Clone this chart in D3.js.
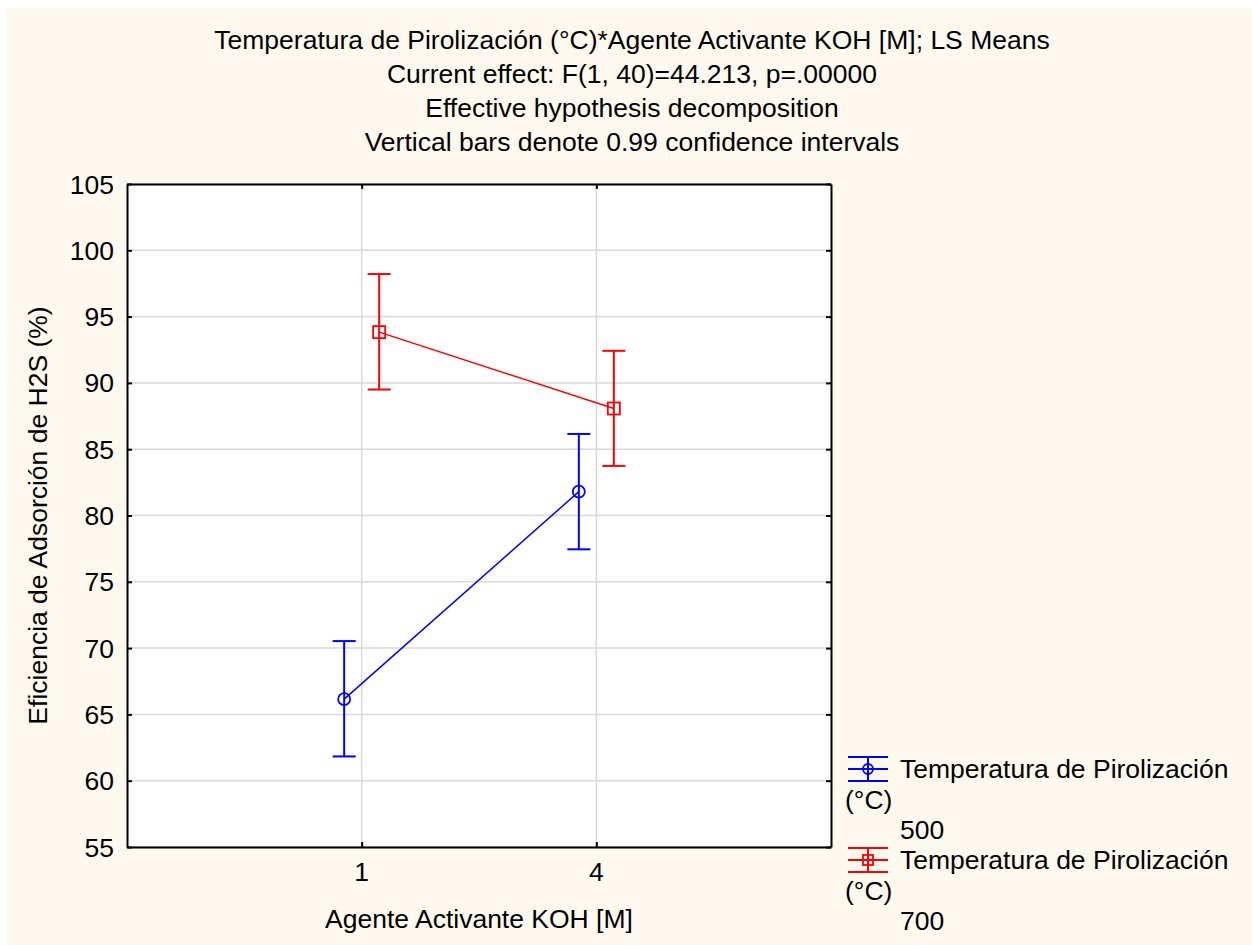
<!DOCTYPE html>
<html>
<head>
<meta charset="utf-8">
<script src="https://cdnjs.cloudflare.com/ajax/libs/d3/7.8.5/d3.min.js"></script>
<style>
  body { margin: 0; background: #ffffff; }
  text { font-family: "Liberation Sans", Arial, sans-serif; fill: #000; }
</style>
</head>
<body>
<div id="chart"></div>
<script>
// data
const categories = ["1", "4"];
const seriesNames = ["500", "700"];
const means500 = [66.15, 81.8];
const lower500 = [61.83, 77.45];
const upper500 = [70.53, 86.15];
const means700 = [93.83, 88.07];
const lower700 = [89.5, 83.74];
const upper700 = [98.21, 92.42];
const yTicks = [55, 60, 65, 70, 75, 80, 85, 90, 95, 100, 105];
const titleLines = [
  "Temperatura de Pirolización (°C)*Agente Activante KOH [M]; LS Means",
  "Current effect: F(1, 40)=44.213, p=.00000",
  "Effective hypothesis decomposition",
  "Vertical bars denote 0.99 confidence intervals"
];

const series = [
  { name: seriesNames[0], color: "#0000ff", marker: "circle", offset: -17.5,
    means: means500, lower: lower500, upper: upper500 },
  { name: seriesNames[1], color: "#ff0000", marker: "square", offset: 17.5,
    means: means700, lower: lower700, upper: upper700 }
];

const W = 1252, H = 945;
const plot = { left: 127, top: 184, right: 831, bottom: 847 };
const fontSize = 26.5;

const svg = d3.select("#chart").append("svg")
  .attr("width", W).attr("height", H);

// cream background (small white margin at top / left)
svg.append("rect")
  .attr("x", 7).attr("y", 8)
  .attr("width", W - 7).attr("height", H - 8)
  .attr("fill", "#fef9ee");

const x = d3.scalePoint()
  .domain(categories)
  .range([plot.left, plot.right])
  .padding(1);

const y = d3.scaleLinear()
  .domain([55, 105])
  .range([plot.bottom, plot.top]);

// plot area
svg.append("rect")
  .attr("x", plot.left).attr("y", plot.top)
  .attr("width", plot.right - plot.left)
  .attr("height", plot.bottom - plot.top)
  .attr("fill", "#ffffff");

// grid lines
svg.append("g")
  .selectAll("line")
  .data(yTicks)
  .enter()
  .append("line")
  .attr("x1", plot.left).attr("x2", plot.right)
  .attr("y1", (d) => y(d)).attr("y2", (d) => y(d))
  .attr("stroke", "#d9d9d9")
  .attr("stroke-width", 1.5);

svg.append("g")
  .selectAll("line")
  .data(categories)
  .enter()
  .append("line")
  .attr("x1", (d) => x(d)).attr("x2", (d) => x(d))
  .attr("y1", plot.top).attr("y2", plot.bottom)
  .attr("stroke", "#d9d9d9")
  .attr("stroke-width", 1.5);

// axes with inward ticks, no labels (labels drawn separately)
const axisLeft = d3.axisLeft(y).tickValues(yTicks).tickSizeInner(-5).tickSizeOuter(0).tickFormat("");
const axisRight = d3.axisRight(y).tickValues(yTicks).tickSizeInner(-5).tickSizeOuter(0).tickFormat("");
const axisBottom = d3.axisBottom(x).tickSizeInner(-5).tickSizeOuter(0).tickFormat("");
const axisTop = d3.axisTop(x).tickSizeInner(-5).tickSizeOuter(0).tickFormat("");

[
  [axisLeft, `translate(${plot.left},0)`],
  [axisRight, `translate(${plot.right},0)`],
  [axisBottom, `translate(0,${plot.bottom})`],
  [axisTop, `translate(0,${plot.top})`]
].forEach(([ax, tr]) => {
  const g = svg.append("g").attr("transform", tr).call(ax);
  g.selectAll("path, line").attr("stroke", "#000").attr("stroke-width", 2);
});

// y tick labels
svg.append("g")
  .selectAll("text")
  .data(yTicks)
  .enter()
  .append("text")
  .attr("x", plot.left - 13)
  .attr("y", (d) => y(d))
  .attr("dy", "0.36em")
  .attr("text-anchor", "end")
  .attr("font-size", fontSize)
  .text((d) => d);

// x tick labels
svg.append("g")
  .selectAll("text")
  .data(categories)
  .enter()
  .append("text")
  .attr("x", (d) => x(d))
  .attr("y", 881)
  .attr("text-anchor", "middle")
  .attr("font-size", fontSize)
  .text((d) => d);

// axis titles
svg.append("text")
  .attr("x", (plot.left + plot.right) / 2)
  .attr("y", 928)
  .attr("text-anchor", "middle")
  .attr("font-size", fontSize)
  .text("Agente Activante KOH [M]");

svg.append("text")
  .attr("transform", `translate(47,${(plot.top + plot.bottom) / 2}) rotate(-90)`)
  .attr("text-anchor", "middle")
  .attr("font-size", fontSize)
  .text("Eficiencia de Adsorción de H2S (%)");

// title
svg.append("g")
  .selectAll("text")
  .data(titleLines)
  .enter()
  .append("text")
  .attr("x", 632)
  .attr("y", (d, i) => 49 + i * 34)
  .attr("text-anchor", "middle")
  .attr("font-size", fontSize)
  .text((d) => d);

// series: lines, error bars, markers
const capHalf = 11.5;
const markerSize = 12;

series.forEach((s) => {
  const pts = categories.map((c, i) => ({
    x: x(c) + s.offset,
    mean: s.means[i],
    lo: s.lower[i],
    hi: s.upper[i]
  }));
  const g = svg.append("g");

  g.append("path")
    .datum(pts)
    .attr("fill", "none")
    .attr("stroke", s.color)
    .attr("stroke-width", 1.5)
    .attr("d", d3.line().x((d) => d.x).y((d) => y(d.mean)));

  // vertical bars
  g.selectAll(".bar")
    .data(pts)
    .enter()
    .append("line")
    .attr("x1", (d) => d.x).attr("x2", (d) => d.x)
    .attr("y1", (d) => y(d.lo)).attr("y2", (d) => y(d.hi))
    .attr("stroke", s.color).attr("stroke-width", 2);

  ["lo", "hi"].forEach((k) => {
    g.selectAll(".cap-" + k)
      .data(pts)
      .enter()
      .append("line")
      .attr("x1", (d) => d.x - capHalf).attr("x2", (d) => d.x + capHalf)
      .attr("y1", (d) => y(d[k])).attr("y2", (d) => y(d[k]))
      .attr("stroke", s.color).attr("stroke-width", 2);
  });

  if (s.marker === "circle") {
    g.selectAll("circle")
      .data(pts)
      .enter()
      .append("circle")
      .attr("cx", (d) => d.x)
      .attr("cy", (d) => y(d.mean))
      .attr("r", markerSize / 2)
      .attr("fill", "none")
      .attr("stroke", s.color).attr("stroke-width", 1.8);
  } else {
    g.selectAll("rect")
      .data(pts)
      .enter()
      .append("rect")
      .attr("x", (d) => d.x - markerSize / 2)
      .attr("y", (d) => y(d.mean) - markerSize / 2)
      .attr("width", markerSize).attr("height", markerSize)
      .attr("fill", "none")
      .attr("stroke", s.color).attr("stroke-width", 1.8);
  }
});

// legend
const legendTop = [769, 860];
series.forEach((s, i) => {
  const cy = legendTop[i];
  const cx = 868;
  const lg = svg.append("g");

  [-12, 0, 12].forEach((dy) => {
    lg.append("line")
      .attr("x1", cx - 20).attr("x2", cx + 20)
      .attr("y1", cy + dy).attr("y2", cy + dy)
      .attr("stroke", s.color).attr("stroke-width", 2);
  });
  lg.append("line")
    .attr("x1", cx).attr("x2", cx)
    .attr("y1", cy - 12).attr("y2", cy + 12)
    .attr("stroke", s.color).attr("stroke-width", 2);

  if (s.marker === "circle") {
    lg.append("circle")
      .attr("cx", cx).attr("cy", cy).attr("r", 5)
      .attr("fill", "none").attr("stroke", s.color).attr("stroke-width", 1.8);
  } else {
    lg.append("rect")
      .attr("x", cx - 5).attr("y", cy - 5)
      .attr("width", 10).attr("height", 10)
      .attr("fill", "none").attr("stroke", s.color).attr("stroke-width", 1.8);
  }

  lg.append("text")
    .attr("x", 900).attr("y", cy + 9)
    .attr("font-size", fontSize)
    .text("Temperatura de Pirolización");
  lg.append("text")
    .attr("x", 845).attr("y", cy + 40)
    .attr("font-size", fontSize)
    .text("(°C)");
  lg.append("text")
    .attr("x", 900).attr("y", cy + 70)
    .attr("font-size", fontSize)
    .text(s.name);
});
</script>
</body>
</html>
